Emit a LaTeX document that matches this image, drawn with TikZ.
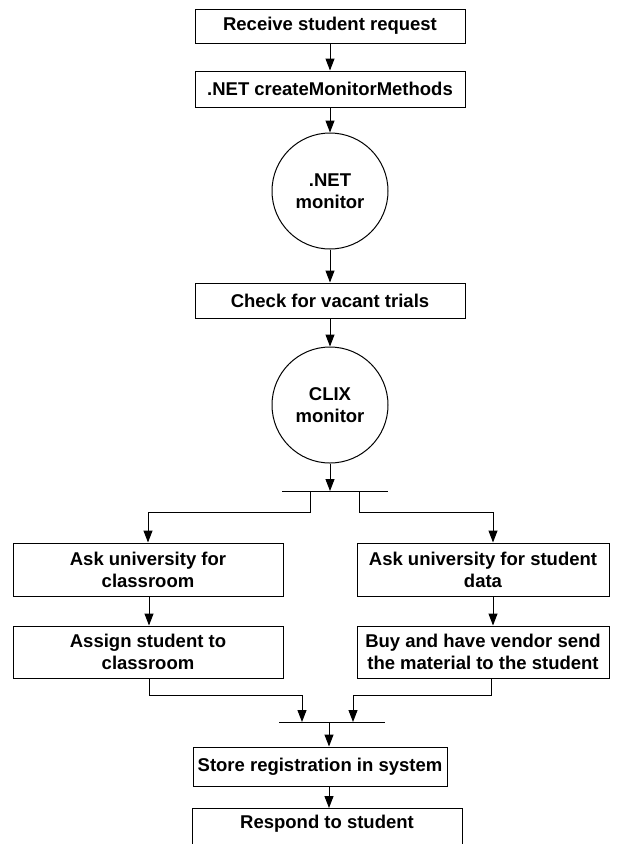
\documentclass[tikz,border=0pt]{standalone}
\usepackage{fontspec}
\setmainfont{Liberation Sans}
\usetikzlibrary{arrows.meta}
\tikzset{
  box/.style={draw, line width=1pt, rectangle, minimum height=#1, inner sep=0pt, align=center, font=\bfseries\fontsize{18.5}{22}\selectfont},
  box/.default=34pt,
  circ/.style={draw, line width=1pt, circle, minimum size=116pt, inner sep=0pt, align=center, font=\bfseries\fontsize{18.5}{22}\selectfont},
  arr/.style={line width=1pt, -{Triangle[length=12pt,width=9pt]}},
  ln/.style={line width=1pt}
}
\begin{document}
\begin{tikzpicture}[x=1pt,y=-1pt]
\clip (0,0) rectangle (625,844);
\fill[white] (0,0) rectangle (625,844);
\node[box=34pt, minimum width=270pt] (recv) at (330,26) {Receive student request};
\node[box=36pt, minimum width=270pt] (net) at (330,89) {.NET createMonitorMethods};
\node[circ] (netmon) at (330,191) {.NET\\monitor};
\node[box=35pt, minimum width=270pt] (check) at (330,300.5) {Check for vacant trials};
\node[circ] (clix) at (330,405) {CLIX\\monitor};
\node[box=53pt, minimum width=270pt] (askroom) at (148,569.5) {Ask university for\\classroom};
\node[box=52pt, minimum width=270pt] (assign) at (148,652) {Assign student to\\classroom};
\node[box=53pt, minimum width=252pt] (askdata) at (483,569.5) {Ask university for student\\data};
\node[box=52pt, minimum width=252pt] (buy) at (483,652) {Buy and have vendor send\\the material to the student};
\node[box=39pt, minimum width=254pt] (store) at (320,766.5) {Store registration in system};
\node[box=40pt, minimum width=270pt, anchor=north] (resp) at (327,808) {};
\node[font=\bfseries\fontsize{18.5}{22}\selectfont] (resptext) at (327,824) {Respond to student};

% fork bar
\coordinate (forkA) at (282,491);
\coordinate (forkB) at (388,491);
\coordinate (forkC) at (330,491);
\coordinate (forkL) at (310,491);
\coordinate (forkR) at (359,491);
\coordinate (inR) at (493,0);
% join bar
\coordinate (joinA) at (279,722);
\coordinate (joinB) at (385,722);
\coordinate (joinL) at (302,722);
\coordinate (joinR) at (353,722);
\coordinate (joinC) at (329,722);
\coordinate (colS) at (329,0);
\coordinate (outL) at (149,0);
\coordinate (outR) at (491,0);

\draw[arr] (recv) -- (net);
\draw[arr] (net) -- (netmon);
\draw[arr] (netmon) -- (check);
\draw[arr] (check) -- (clix);
\draw[arr] (clix) -- (forkC);
\draw[ln] (forkA) -- (forkB);
\draw[arr] (forkL) -- ++(0,21) -| (askroom.north);
\draw[arr] (forkR) -- ++(0,21) -| (askdata.north -| inR);
\draw[arr] (askroom.south -| outL) -- (assign.north -| outL);
\draw[arr] (askdata.south -| inR) -- (buy.north -| inR);
\draw[arr] (assign.south -| outL) -- ++(0,17) -| (joinL);
\draw[arr] (buy.south -| outR) -- ++(0,17) -| (joinR);
\draw[ln] (joinA) -- (joinB);
\draw[arr] (joinC) -- (store.north -| colS);
\draw[arr] (store.south -| colS) -- (resp.north -| colS);
\end{tikzpicture}
\end{document}
